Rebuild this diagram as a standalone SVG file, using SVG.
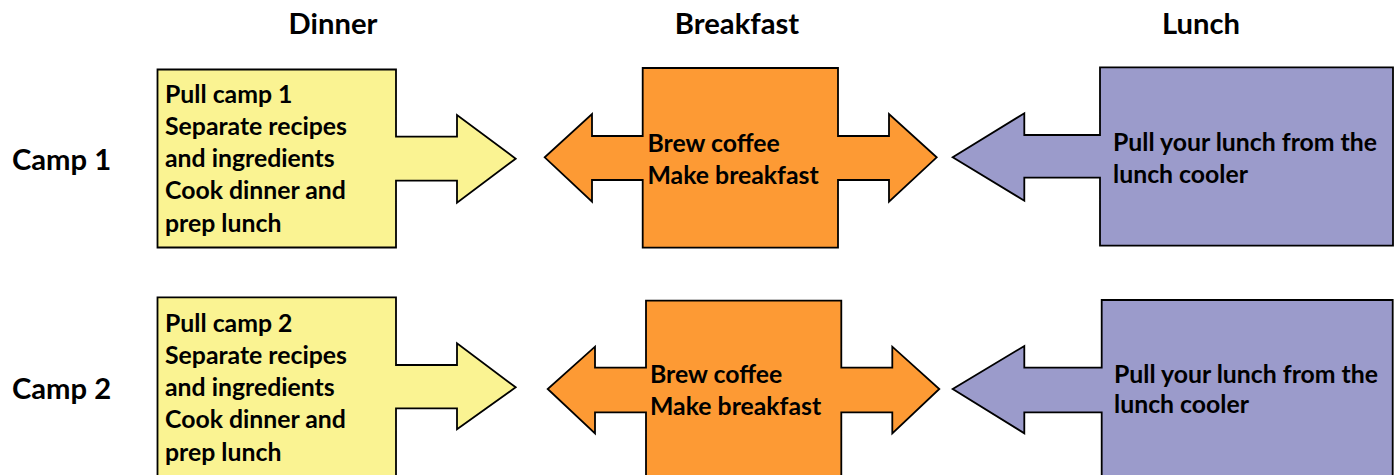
<svg xmlns="http://www.w3.org/2000/svg" width="1394" height="475" viewBox="0 0 1394 475">
<style>
.shape{stroke:#000;stroke-width:1.8;stroke-linejoin:miter}
.y{fill:#FAF392}
.o{fill:#FD9A34}
.p{fill:#9B9BCB}
.t{font-family:Lato,"Liberation Sans",sans-serif;font-weight:bold;font-size:24.8px;fill:#000}
.h{font-family:Lato,"Liberation Sans",sans-serif;font-weight:bold;font-size:29.2px;fill:#000}
</style>
<rect width="1394" height="475" fill="#fff"/>
<g id="headers">
<text class="h" x="333" y="34" text-anchor="middle">Dinner</text>
<text class="h" x="737" y="34" text-anchor="middle">Breakfast</text>
<text class="h" x="1201" y="34" text-anchor="middle">Lunch</text>
<text class="h" x="12" y="170">Camp 1</text>
<text class="h" x="12" y="399">Camp 2</text>
</g>
<g id="connectors"></g>
<g id="dinner1">
<polygon class="shape y" points="157.5,69.5 396,69.5 396,136.7 457,136.7 457,115 515.7,158.7 457,202.7 457,180.7 396,180.7 396,247.5 157.5,247.5"/>
<text class="t" x="165" y="103">Pull camp 1</text>
<text class="t" x="165" y="135">Separate recipes</text>
<text class="t" x="165" y="167">and ingredients</text>
<text class="t" x="165" y="199">Cook dinner and</text>
<text class="t" x="165" y="232">prep lunch</text>
</g>
<g id="breakfast1">
<polygon class="shape o" points="642.7,68 838,68 838,136 889,136 889,114 936.7,157.3 889,201.7 889,180 838,180 838,247.7 642.7,247.7 642.7,180 592,180 592,201.7 544.7,157.3 592,114 592,136 642.7,136"/>
<text class="t" x="647.5" y="152">Brew coffee</text>
<text class="t" x="647.5" y="184">Make breakfast</text>
</g>
<g id="lunch1">
<polygon class="shape p" points="1100,67.3 1393,67.3 1393,245.7 1100,245.7 1100,177.7 1024.3,177.7 1024.3,200.7 952.7,157.3 1024.3,113.3 1024.3,135 1100,135"/>
<text class="t" x="1113" y="151">Pull your lunch from the</text>
<text class="t" x="1113" y="183">lunch cooler</text>
</g>
<g id="dinner2">
<polygon class="shape y" points="157.5,297.3 396,297.3 396,365 457,365 457,343.3 515.7,387.3 457,429.3 457,408.3 396,408.3 396,480 157.5,480"/>
<text class="t" x="165" y="332">Pull camp 2</text>
<text class="t" x="165" y="364">Separate recipes</text>
<text class="t" x="165" y="396">and ingredients</text>
<text class="t" x="165" y="428">Cook dinner and</text>
<text class="t" x="165" y="461">prep lunch</text>
</g>
<g id="breakfast2">
<polygon class="shape o" points="646,300.7 841.3,300.7 841.3,367.7 892.3,367.7 892.3,346.7 939.3,389 892.3,433.3 892.3,412.3 841.3,412.3 841.3,480 646,480 646,412.3 595,412.3 595,433.3 547.7,389 595,346.7 595,367.7 646,367.7"/>
<text class="t" x="650" y="383">Brew coffee</text>
<text class="t" x="650" y="415">Make breakfast</text>
</g>
<g id="lunch2">
<polygon class="shape p" points="1101.7,300 1392.7,300 1392.7,480 1101.7,480 1101.7,412.3 1024.3,412.3 1024.3,433.3 952.7,389 1024.3,346 1024.3,367.7 1101.7,367.7"/>
<text class="t" x="1114" y="383">Pull your lunch from the</text>
<text class="t" x="1114" y="413">lunch cooler</text>
</g>
</svg>
